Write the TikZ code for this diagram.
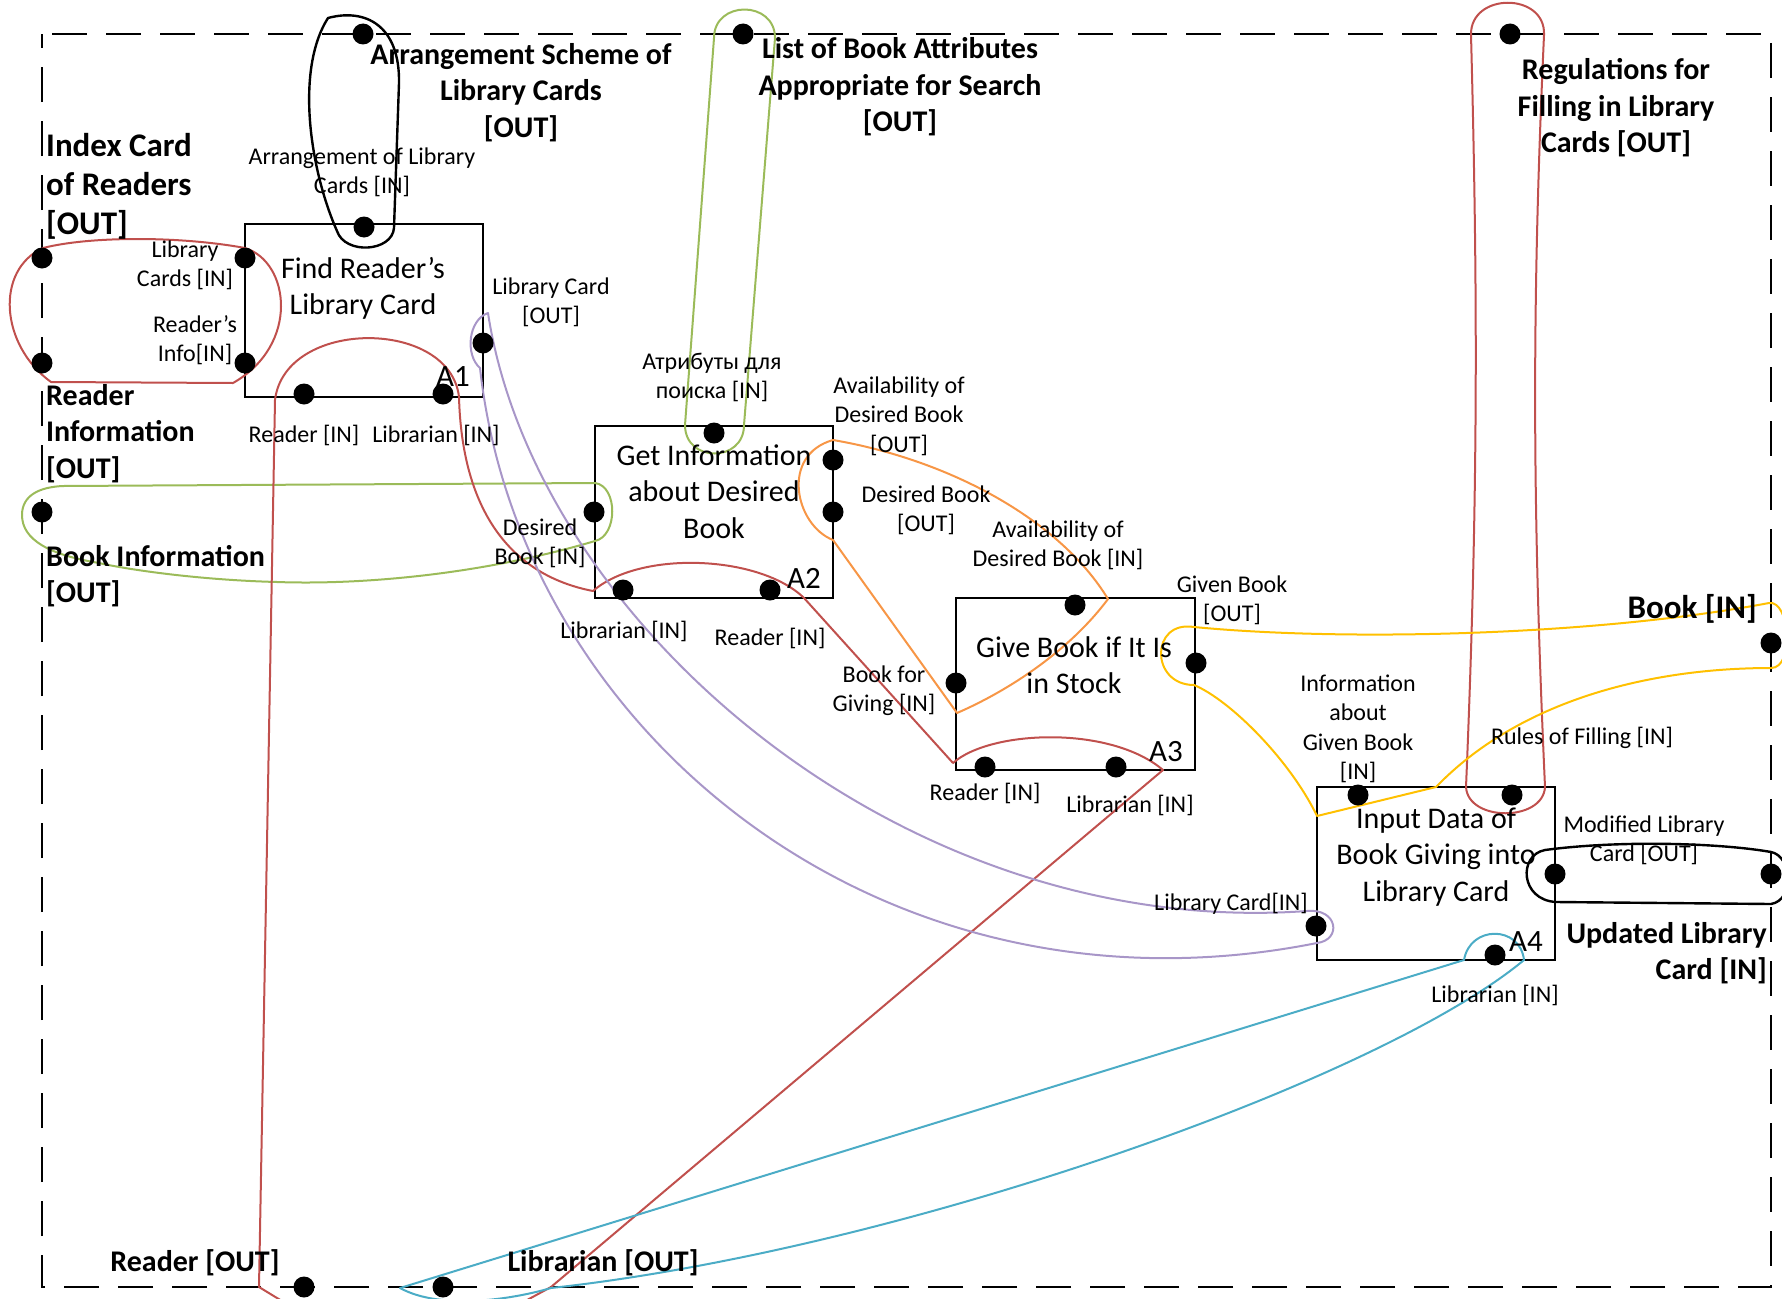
\documentclass[tikz,border=0pt]{standalone}
\usepackage{fontspec}
\setmainfont{Carlito}
% multi-line label whose reference point is the first baseline
\newcommand{\ml}[2]{\begin{tabular}[t]{@{}#1@{}}#2\end{tabular}}
\definecolor{loopred}{HTML}{C0504D}
\definecolor{loopgreen}{HTML}{9BBB59}
\definecolor{looppurple}{HTML}{A896C8}
\definecolor{looporange}{HTML}{F79646}
\definecolor{loopyellow}{HTML}{FFC000}
\definecolor{loopcyan}{HTML}{4BACC6}
\tikzset{
  frameline/.style={line width=2.5pt, dash pattern=on 35pt off 19pt, dash phase=44pt},
  procbox/.style={draw, line width=2pt, inner sep=0pt, minimum width=238pt, minimum height=173pt},
  port/.style={circle, fill=black, inner sep=0pt, minimum size=21pt},
  loopline/.style={line width=2pt, line join=round},
  smalllbl/.style={inner sep=0pt, anchor=base, font=\fontsize{24}{29.5}\selectfont},
  boxtext/.style={inner sep=0pt, anchor=base, font=\fontsize{30}{36.5}\selectfont},
  extlbl/.style={inner sep=0pt, anchor=base, font=\bfseries\fontsize{30}{36.5}\selectfont},
  extbig/.style={inner sep=0pt, anchor=base, font=\bfseries\fontsize{33}{39}\selectfont},
  tagtxt/.style={inner sep=0pt, anchor=base east, font=\fontsize{31}{36}\selectfont}
}
\begin{document}
\begin{tikzpicture}[x=1pt, y=-1pt]
\useasboundingbox (0,0) rectangle (1782,1298);
\clip (0,0) rectangle (1782,1298);

% context frame
\draw[frameline] (42,34) -- (1771,34) -- (1771,1287) -- (42,1287) -- cycle;

% activity boxes
\node[procbox] (A1) at (364,310.5) {};
\node[procbox, minimum height=172pt] (A2) at (714,512) {};
\node[procbox, minimum width=239pt, minimum height=172pt] (A3) at (1075.5,684) {};
\node[procbox] (A4) at (1436,873.5) {};

% ---- links between ports ----
% Arrangement scheme (black)
\draw[loopline, black, line width=2.4pt] (328,18) .. controls (365,8) and (400,25) .. (399,83)
  -- (394,228) .. controls (392,252) and (345,255) .. (337,231)
  .. controls (310,170) and (295,70) .. (328,18) -- cycle;
% Index card / reader information (red)
\draw[loopline, loopred] (43,248) .. controls (90,236) and (180,236) .. (245,248)
  .. controls (290,262) and (300,345) .. (233,383) -- (51,382)
  .. controls (0,345) and (-5,270) .. (43,248) -- cycle;
% Book attributes (green)
\draw[loopline, loopgreen] (685,425) -- (714,38) .. controls (714,0) and (775,0) .. (775,38)
  -- (744,425) .. controls (744,463) and (685,463) .. (685,425) -- cycle;
% Book information (green)
\draw[loopline, loopgreen] (63,486) -- (595,483) .. controls (618,486) and (618,536) .. (595,541)
  .. controls (480,575) and (360,585) .. (277,582)
  .. controls (200,580) and (130,570) .. (99,563)
  .. controls (50,555) and (22,540) .. (22,515)
  .. controls (22,495) and (40,487) .. (63,486) -- cycle;
% Regulations for filling (red)
\draw[loopline, loopred] (1471,35) .. controls (1478,300) and (1478,500) .. (1466,787)
  .. controls (1468,822) and (1543,822) .. (1545,787)
  .. controls (1532,500) and (1532,300) .. (1544,35)
  .. controls (1546,-8) and (1470,-8) .. (1471,35) -- cycle;
% Reader (red)
\draw[loopline, loopred] (259,1287) -- (275,400) .. controls (285,318) and (450,318) .. (459,397)
  .. controls (462,510) and (510,575) .. (593,591)
  .. controls (640,550) and (760,555) .. (804,598) -- (953,763)
  .. controls (990,730) and (1110,725) .. (1163,770) -- (551,1287)
  -- (505,1312) -- (300,1312) -- cycle;
% Library card (purple)
\draw[loopline, looppurple] (488,313) .. controls (535,620) and (900,940) .. (1307,911)
  .. controls (1338,908) and (1342,940) .. (1317,943)
  .. controls (880,1030) and (520,730) .. (480,368)
  .. controls (465,355) and (468,320) .. (488,313) -- cycle;
% Desired book (orange)
\draw[loopline, looporange] (833,440) .. controls (950,460) and (1060,520) .. (1108,599)
  .. controls (1070,650) and (1010,690) .. (957,713) -- (833,540)
  .. controls (795,525) and (780,455) .. (833,440) -- cycle;
% Book (yellow)
\draw[loopline, loopyellow] (1194,627) .. controls (1350,642) and (1600,635) .. (1769,603)
  .. controls (1790,600) and (1795,668) .. (1771,668)
  .. controls (1650,668) and (1520,700) .. (1436,787) -- (1317,816)
  .. controls (1290,760) and (1230,700) .. (1194,685)
  .. controls (1150,685) and (1150,620) .. (1194,627) -- cycle;
% Updated library card (black)
\draw[loopline, black, line width=2.4pt] (1545,850) .. controls (1620,840) and (1720,843) .. (1771,852)
  .. controls (1792,856) and (1795,900) .. (1771,904) -- (1556,902)
  .. controls (1520,900) and (1518,855) .. (1545,850) -- cycle;
% Librarian (cyan)
\draw[loopline, loopcyan] (400,1288) -- (1464,960) .. controls (1470,925) and (1520,925) .. (1524,960)
  .. controls (1380,1080) and (900,1250) .. (551,1288)
  .. controls (510,1300) and (440,1310) .. (400,1288) -- cycle;

% ---- ports on the frame ----
\node[port] (fArr) at (363,34) {};
\node[port] (fList) at (743,34) {};
\node[port] (fReg) at (1510,34) {};
\node[port] (fIdx) at (42,258) {};
\node[port] (fRInfo) at (42,363) {};
\node[port] (fBInfo) at (42,512) {};
\node[port] (fBook) at (1771,643) {};
\node[port] (fUpd) at (1771,874) {};
\node[port] (fReader) at (304,1287) {};
\node[port] (fLibr) at (443,1287) {};

% ---- ports on the boxes ----
\node[port] (a1t) at (364,227) {};
\node[port] (a1l1) at (245,258) {};
\node[port] (a1l2) at (245,363) {};
\node[port] (a1b1) at (304,394) {};
\node[port] (a1b2) at (443,394) {};
\node[port] (a1r) at (483,343) {};
\node[port] (a2t) at (714,433) {};
\node[port] (a2l) at (594,512) {};
\node[port] (a2r1) at (833,460) {};
\node[port] (a2r2) at (833,512) {};
\node[port] (a2b1) at (623,590) {};
\node[port] (a2b2) at (770,590) {};
\node[port] (a3t) at (1075,605) {};
\node[port] (a3l) at (956,683) {};
\node[port] (a3r) at (1196,663) {};
\node[port] (a3b1) at (985,767) {};
\node[port] (a3b2) at (1116,767) {};
\node[port] (a4t1) at (1358,795) {};
\node[port] (a4t2) at (1512,795) {};
\node[port] (a4l) at (1316,926) {};
\node[port] (a4r) at (1555,874) {};
\node[port] (a4b) at (1495,955) {};

% ---- box titles and numbers ----
\node[boxtext] (tA1) at (363,278) {\ml{c}{Find Reader’s\\Library Card}};
\node[boxtext] (tA2) at (714,465) {\ml{c}{Get Information\\about Desired\\Book}};
\node[boxtext] (tA3) at (1074,657) {\ml{c}{Give Book if It Is\\in Stock}};
\node[boxtext] (tA4) at (1436,828) {\ml{c}{Input Data of\\Book Giving into\\Library Card}};
\node[tagtxt] (nA1) at (470,386) {A1};
\node[tagtxt] (nA2) at (821,588) {A2};
\node[tagtxt] (nA3) at (1183,761) {A3};
\node[tagtxt] (nA4) at (1543,951) {A4};

% ---- frame labels ----
\node[extbig, anchor=base west] (lIdx) at (46,156) {\ml{l}{Index Card\\of Readers\\{}[OUT]}};
\node[extlbl, anchor=base west] (lRInfo) at (46,405) {\ml{l}{Reader\\Information\\{}[OUT]}};
\node[extlbl, anchor=base west] (lBInfo) at (46,566) {\ml{l}{Book Information\\{}[OUT]}};
\node[extlbl] (lArr) at (521,64) {\ml{c}{Arrangement Scheme of\\Library Cards\\{}[OUT]}};
\node[extlbl] (lList) at (900,59) {\ml{c}{List of Book Attributes\\Appropriate for Search\\{}[OUT]}};
\node[extlbl] (lReg) at (1616,80) {\ml{c}{Regulations for\\Filling in Library\\Cards [OUT]}};
\node[extbig, anchor=base east] (lBook) at (1757,618) {Book [IN]};
\node[extlbl, anchor=base east] (lUpd) at (1767,943) {\ml{r}{Updated Library\\Card [IN]}};
\node[extlbl] (lReader) at (195,1271) {Reader [OUT]};
\node[extlbl] (lLibr) at (603,1271) {Librarian [OUT]};

% ---- port labels ----
\node[smalllbl] (pArrIn) at (362,164) {\ml{c}{Arrangement of Library\\Cards [IN]}};
\node[smalllbl] (pLibCards) at (185,257) {\ml{c}{Library\\Cards [IN]}};
\node[smalllbl] (pRInfo) at (195,332) {\ml{c}{Reader’s\\Info[IN]}};
\node[smalllbl] (pLCOut) at (551,294) {\ml{c}{Library Card\\{}[OUT]}};
\node[smalllbl] (pA1Rd) at (304,442) {Reader [IN]};
\node[smalllbl] (pA1Lb) at (436,442) {Librarian [IN]};
\node[smalllbl] (pAttr) at (712,369) {\ml{c}{Атрибуты для\\поиска [IN]}};
\node[smalllbl] (pAvOut) at (899,393) {\ml{c}{Availability of\\Desired Book\\{}[OUT]}};
\node[smalllbl] (pDBIn) at (540,535) {\ml{c}{Desired\\Book [IN]}};
\node[smalllbl] (pDBOut) at (926,502) {\ml{c}{Desired Book\\{}[OUT]}};
\node[smalllbl] (pAvIn) at (1058,537) {\ml{c}{Availability of\\Desired Book [IN]}};
\node[smalllbl] (pA2Lb) at (624,638) {Librarian [IN]};
\node[smalllbl] (pA2Rd) at (770,645) {Reader [IN]};
\node[smalllbl] (pBfG) at (884,682) {\ml{c}{Book for\\Giving [IN]}};
\node[smalllbl] (pA3Rd) at (985,800) {Reader [IN]};
\node[smalllbl] (pA3Lb) at (1130,812) {Librarian [IN]};
\node[smalllbl] (pGB) at (1232,592) {\ml{c}{Given Book\\{}[OUT]}};
\node[smalllbl] (pInfGB) at (1358,691) {\ml{c}{Information\\about\\Given Book\\{}[IN]}};
\node[smalllbl] (pRules) at (1582,744) {Rules of Filling [IN]};
\node[smalllbl] (pMod) at (1644,832) {\ml{c}{Modified Library\\Card [OUT]}};
\node[smalllbl] (pLCIn) at (1231,910) {Library Card[IN]};
\node[smalllbl] (pA4Lb) at (1495,1002) {Librarian [IN]};
\end{tikzpicture}
\end{document}
